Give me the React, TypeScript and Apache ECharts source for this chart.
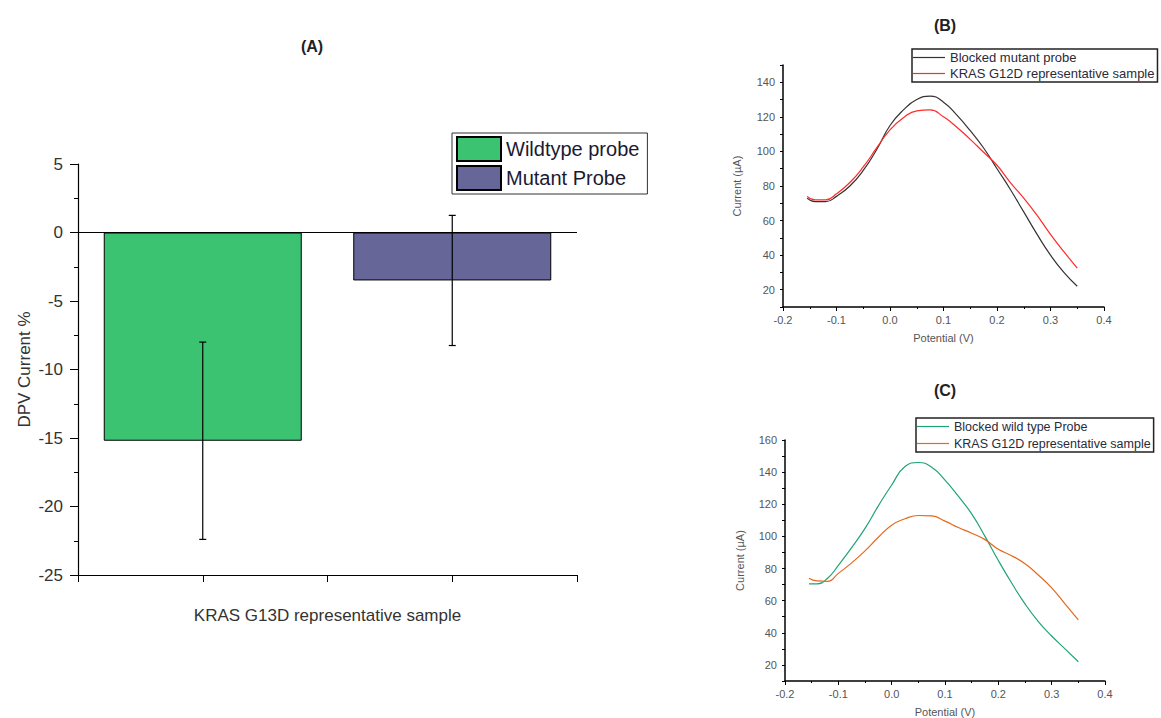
import React, { useEffect, useRef } from "react";
import * as echarts from "echarts";

// ---------- Panel A data ----------
const categories = ["KRAS G13D representative sample"];
const probes = ["Wildtype probe", "Mutant Probe"];
const meanChange = [-15.2, -3.5];
const errChange = [7.2, 4.75];
const barColors = ["#3cc371", "#666699"];

// ---------- Panels B / C data ----------
const potential = [-0.155, -0.14, -0.12, -0.1, -0.075, -0.05, -0.025, 0, 0.025, 0.05, 0.075, 0.1, 0.125, 0.15, 0.175, 0.2, 0.225, 0.25, 0.275, 0.3, 0.325, 0.35];
const blockedMutant = [73, 71, 71, 74, 80, 89, 101, 115, 124, 130, 132, 128.5, 121, 112, 102, 90, 78, 65, 52, 40, 30, 22];
const g12dB = [74, 72, 72, 75.5, 82, 91, 102, 112.5, 119.5, 123.5, 124, 120, 114, 107, 99.5, 92, 82, 73, 63, 52, 42, 32.5];
const blockedWild = [70.5, 70.5, 74, 82, 93, 105, 119, 132, 143.5, 146, 143, 135, 125, 114, 100, 85, 71, 58, 47, 38, 30, 22];
const g12dC = [74, 72.3, 72, 77, 83.5, 91, 99.5, 107, 111, 113, 112.8, 109.5, 105.5, 102, 98, 92, 88, 83, 76, 68, 58, 48];

const FONT = "Liberation Sans, Arial, sans-serif";

function pairs(xs: number[], ys: number[]) {
  return xs.map((x, i) => [x, ys[i]]);
}

function optionA(): any {
  return {
    animation: false,
    graphic: [
      {
        type: "text",
        x: 312,
        y: 46,
        style: { text: "(A)", font: `bold 16px ${FONT}`, fill: "#222", textAlign: "center", textVerticalAlign: "middle" },
      },
    ],
    legend: {
      orient: "vertical",
      left: 452,
      top: 133,
      icon: "rect",
      itemWidth: 44,
      itemHeight: 24,
      itemGap: 3,
      padding: [3, 8, 3, 4],
      borderColor: "#333",
      borderWidth: 1,
      data: probes,
      textStyle: { fontSize: 20, color: "#1a1a33", fontFamily: FONT },
    },
    grid: { left: 78, right: 584, top: 164, bottom: 143 },
    xAxis: {
      type: "value",
      min: 0,
      max: 4,
      interval: 1,
      name: categories[0],
      nameLocation: "middle",
      nameGap: 32,
      nameTextStyle: { fontSize: 17, color: "#333", fontFamily: FONT },
      axisLine: { show: true, onZero: false, lineStyle: { color: "#000", width: 1.2 } },
      axisTick: { show: true, length: 7, lineStyle: { color: "#000" } },
      axisLabel: { show: false },
      splitLine: { show: false },
    },
    yAxis: {
      type: "value",
      min: -25,
      max: 5,
      interval: 5,
      name: "DPV Current %",
      nameLocation: "middle",
      nameGap: 45,
      nameTextStyle: { fontSize: 17, color: "#333", fontFamily: FONT },
      axisLine: { show: true, onZero: false, lineStyle: { color: "#000", width: 1.2 } },
      axisTick: { show: true, length: 8, lineStyle: { color: "#000" } },
      minorTick: { show: true, splitNumber: 2, length: 4, lineStyle: { color: "#000" } },
      axisLabel: { fontSize: 17, color: "#333", margin: 15, fontFamily: FONT },
      splitLine: { show: false },
    },
    series: [
      ...probes.map((p, i) => ({
        name: p,
        type: "bar",
        barWidth: 198,
        barGap: "-100%",
        data: [[1 + 2 * i, meanChange[i]]],
        itemStyle: { color: barColors[i], borderColor: "#000", borderWidth: 1 },
        markLine:
          i === 0
            ? {
                silent: true,
                symbol: ["none", "none"],
                label: { show: false },
                lineStyle: { color: "#000", type: "solid", width: 1.2 },
                data: [{ yAxis: 0 }],
              }
            : undefined,
      })),
      {
        type: "custom",
        name: "error",
        z: 10,
        data: probes.map((_, i) => [1 + 2 * i, meanChange[i], errChange[i]]),
        renderItem: (params: any, api: any) => {
          const x = api.value(0);
          const y = api.value(1);
          const e = api.value(2);
          const top = api.coord([x, y + e]);
          const bot = api.coord([x, y - e]);
          const hw = 3.5;
          const st = { stroke: "#000", lineWidth: 1.2 };
          return {
            type: "group",
            children: [
              { type: "line", shape: { x1: top[0], y1: top[1], x2: bot[0], y2: bot[1] }, style: st },
              { type: "line", shape: { x1: top[0] - hw, y1: top[1], x2: top[0] + hw, y2: top[1] }, style: st },
              { type: "line", shape: { x1: bot[0] - hw, y1: bot[1], x2: bot[0] + hw, y2: bot[1] }, style: st },
            ],
          };
        },
      },
    ],
  };
}

function curveOption(cfg: {
  title: string;
  titleY: number;
  grid: any;
  ymax: number;
  nameGapY: number;
  legendLeft: number;
  legendTop: number;
  legendFont: number;
  legendItemHeight: number;
  legendGap: number;
  series: { name: string; ys: number[]; color: string }[];
}): any {
  return {
    animation: false,
    graphic: [
      {
        type: "text",
        x: 945,
        y: cfg.titleY,
        style: { text: cfg.title, font: `bold 16px ${FONT}`, fill: "#222", textAlign: "center", textVerticalAlign: "middle" },
      },
    ],
    legend: {
      orient: "vertical",
      left: cfg.legendLeft,
      top: cfg.legendTop,
      icon: "path://M0,0 L32,0 L32,1.2 L0,1.2 Z",
      itemWidth: 32,
      itemHeight: cfg.legendItemHeight,
      itemGap: cfg.legendGap,
      padding: [2, 3, 2, 1],
      borderColor: "#222",
      borderWidth: 1.5,
      data: cfg.series.map((s) => s.name),
      textStyle: { fontSize: cfg.legendFont, color: "#2a2a3a", fontFamily: FONT },
    },
    grid: cfg.grid,
    xAxis: {
      type: "value",
      min: -0.2,
      max: 0.4,
      interval: 0.1,
      name: "Potential (V)",
      nameLocation: "middle",
      nameGap: 25,
      nameTextStyle: { fontSize: 11, color: "#555", fontFamily: FONT },
      axisLine: { show: true, onZero: false, lineStyle: { color: "#000", width: 1.5 } },
      axisTick: { show: true, length: 4, lineStyle: { color: "#000" } },
      minorTick: { show: true, splitNumber: 2, length: 2, lineStyle: { color: "#000" } },
      axisLabel: { fontSize: 11, color: "#555", margin: 7, fontFamily: FONT, formatter: (v: number) => v.toFixed(1) },
      splitLine: { show: false },
    },
    yAxis: {
      type: "value",
      min: 10,
      max: cfg.ymax,
      interval: 10,
      name: "Current (µA)",
      nameLocation: "middle",
      nameGap: cfg.nameGapY,
      nameTextStyle: { fontSize: 11, color: "#555", fontFamily: FONT },
      axisLine: { show: true, onZero: false, lineStyle: { color: "#000", width: 1.5 } },
      axisTick: { show: true, length: 3, lineStyle: { color: "#000" } },
      axisLabel: {
        fontSize: 11,
        color: "#555",
        margin: 8,
        fontFamily: FONT,
        formatter: (v: number) => (v % 20 === 0 ? String(v) : ""),
      },
      splitLine: { show: false },
    },
    series: cfg.series.map((s) => ({
      name: s.name,
      type: "line",
      smooth: true,
      symbol: "none",
      showSymbol: false,
      data: pairs(potential, s.ys),
      itemStyle: { color: s.color },
      lineStyle: { color: s.color, width: 1.2 },
    })),
  };
}

function useChart(ref: React.RefObject<HTMLDivElement | null>, makeOption: () => any) {
  useEffect(() => {
    if (!ref.current) return;
    const chart = echarts.init(ref.current, null, { renderer: "svg" });
    chart.setOption(makeOption());
    return () => chart.dispose();
  }, []);
}

const layer: React.CSSProperties = { position: "absolute", left: 0, top: 0, width: 1161, height: 718 };

export default function App() {
  const refA = useRef<HTMLDivElement>(null);
  const refB = useRef<HTMLDivElement>(null);
  const refC = useRef<HTMLDivElement>(null);

  useEffect(() => {
    document.body.style.margin = "0";
    document.body.style.background = "#fff";
  }, []);

  useChart(refA, optionA);
  useChart(refB, () =>
    curveOption({
      title: "(B)",
      titleY: 25,
      grid: { left: 783, right: 57, top: 65, bottom: 411 },
      ymax: 150,
      nameGapY: 41,
      legendLeft: 912,
      legendTop: 49,
      legendFont: 13,
      legendItemHeight: 12,
      legendGap: 3,
      series: [
        { name: "Blocked mutant probe", ys: blockedMutant, color: "#333333" },
        { name: "KRAS G12D representative sample", ys: g12dB, color: "#ff2a2a" },
      ],
    })
  );
  useChart(refC, () =>
    curveOption({
      title: "(C)",
      titleY: 390,
      grid: { left: 785, right: 56, top: 440, bottom: 36 },
      ymax: 160,
      nameGapY: 40,
      legendLeft: 916,
      legendTop: 418,
      legendFont: 12.5,
      legendItemHeight: 13,
      legendGap: 4,
      series: [
        { name: "Blocked wild type Probe", ys: blockedWild, color: "#1fa37a" },
        { name: "KRAS G12D representative sample", ys: g12dC, color: "#e4691c" },
      ],
    })
  );

  return (
    <div style={{ position: "relative", width: 1161, height: 718, overflow: "hidden", background: "#fff" }}>
      <div ref={refA} style={layer} />
      <div ref={refB} style={layer} />
      <div ref={refC} style={layer} />
    </div>
  );
}
